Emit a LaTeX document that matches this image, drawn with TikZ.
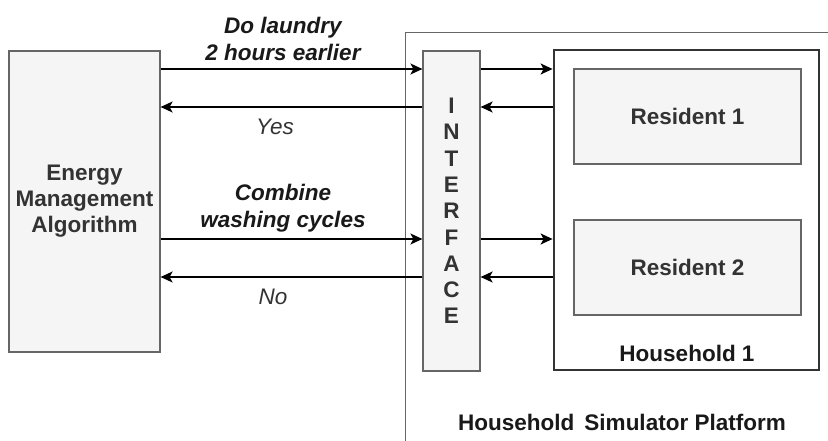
\documentclass[tikz,border=0pt]{standalone}
\usepackage{fontspec}
\setmainfont{Liberation Sans}
\usetikzlibrary{arrows.meta}
\definecolor{boxfill}{HTML}{F5F5F5}
\definecolor{boxline}{HTML}{666666}
\definecolor{txt}{HTML}{333333}
\begin{document}
\begin{tikzpicture}[x=1pt,y=-1pt,
  every node/.style={font=\fontsize{22.5}{26}\selectfont, inner sep=0pt},
  graybox/.style={draw=boxline, fill=boxfill, line width=1.2pt, text=txt, font=\fontsize{22.5}{26}\selectfont\bfseries, align=center},
  arr/.style={line width=1.5pt, -{Stealth[length=12pt,width=11pt,inset=3pt]}},
  lbl/.style={font=\fontsize{22.5}{27}\selectfont\bfseries\itshape, align=center, text=black!90},
  lbr/.style={font=\fontsize{22.5}{26}\selectfont\itshape, text=txt}]
\clip (0,0) rectangle (828,441);
\fill[white] (0,0) rectangle (828,441);
% platform frame
\node[draw=boxline, line width=1.2pt, minimum width=600pt, minimum height=500pt, anchor=north west] (plat) at (405,32) {};
\node[font=\fontsize{22.5}{26}\selectfont\bfseries, text=black!90] (platlbl) at (622,422) {Household\, Simulator Platform};
% boxes
\node[graybox, minimum width=151pt, minimum height=301pt] (ema) at (84.5,201.5) {Energy\\Management\\Algorithm};
\node[graybox, minimum width=57pt, minimum height=320pt, font=\fontsize{22.5}{26.3}\selectfont\bfseries] (iface) at (451.5,211) {I\\N\\T\\E\\R\\F\\A\\C\\E};
\node[draw=black!80, line width=2.8pt, minimum width=265pt, minimum height=320pt] (hh) at (686.5,210) {};
\node[graybox, minimum width=227pt, minimum height=95pt] (r1) at (687.5,116.5) {Resident 1};
\node[graybox, minimum width=227pt, minimum height=95pt] (r2) at (687.5,267.5) {Resident 2};
\node[font=\fontsize{22.5}{26}\selectfont\bfseries, text=black!90] (hhlbl) at (687,353) {Household 1};
% level coordinates
\coordinate (y1) at (0,69);
\coordinate (y2) at (0,107);
\coordinate (y3) at (0,239);
\coordinate (y4) at (0,277);
% arrows
\draw[arr] (ema.east |- y1) -- (iface.west |- y1);
\draw[arr] (iface.west |- y2) -- (ema.east |- y2);
\draw[arr] (iface.east |- y1) -- (hh.west |- y1);
\draw[arr] (hh.west |- y2) -- (iface.east |- y2);
\draw[arr] (ema.east |- y3) -- (iface.west |- y3);
\draw[arr] (iface.west |- y4) -- (ema.east |- y4);
\draw[arr] (iface.east |- y3) -- (hh.west |- y3);
\draw[arr] (hh.west |- y4) -- (iface.east |- y4);
% labels
\node[lbl] (l1) at (283,38.5) {Do laundry\\2 hours earlier};
\node[lbr] (l2) at (275,127) {Yes};
\node[lbl] (l3) at (283,208) {Combine\\washing cycles};
\node[lbr] (l4) at (273,297) {No};
\end{tikzpicture}
\end{document}
